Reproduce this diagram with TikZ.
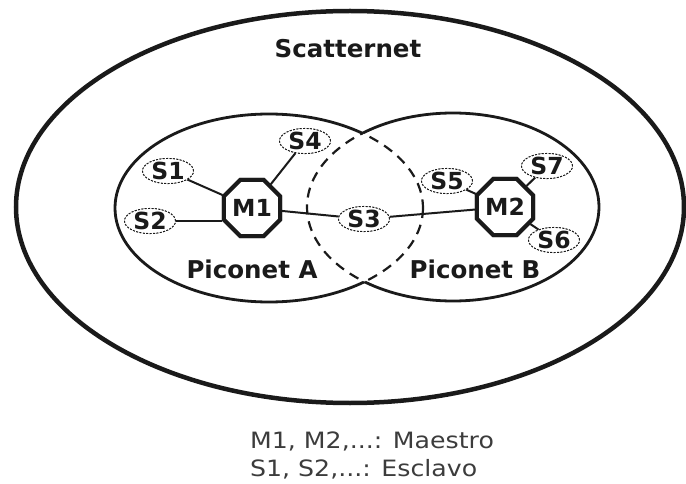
\documentclass[tikz,border=0pt]{standalone}
\usepackage{fontspec}
\setmainfont{DejaVu Sans}
\newfontfamily\legendfont[FakeStretch=1.12]{DejaVu Sans}
\usetikzlibrary{shapes.geometric}
\definecolor{ink}{HTML}{1A1A1A}
\definecolor{legendgray}{HTML}{3C3C3C}
\begin{document}
\begin{tikzpicture}[x=1pt,y=-1pt,
  ring/.style={line width=2.8pt, draw=ink},
  outerring/.style={line width=4.5pt, draw=ink},
  innerdash/.style={line width=2.2pt, draw=ink, dash pattern=on 10pt off 7pt},
  slave/.style={ellipse, draw=ink, fill=white, line width=0.9pt,
    dash pattern=on 2pt off 1.4pt, minimum width=51pt, minimum height=24pt,
    inner sep=0pt, text=ink, font=\fontsize{23.5}{23.5}\selectfont\bfseries},
  master/.style={regular polygon, regular polygon sides=8, draw=ink, fill=white,
    line width=4pt, minimum size=54pt, inner sep=0pt, text=ink,
    font=\fontsize{23.5}{23.5}\selectfont\bfseries},
  link/.style={line width=2pt, draw=ink},
  title/.style={text=ink, font=\fontsize{24.5}{24.5}\selectfont\bfseries, inner sep=0pt},
  legend/.style={text=legendgray, font=\fontsize{22.5}{22.5}\legendfont, inner sep=0pt}]

\useasboundingbox (0,0) rectangle (686,484);

% Scatternet boundary
\coordinate (cS) at (350,207);
\draw[outerring] (cS) ellipse [x radius=334, y radius=196];

% Piconet boundaries: solid outside the overlap, dashed inside it
\coordinate (cA) at (269,208);
\coordinate (cB) at (453,207);
\begin{scope}[even odd rule]
  \clip (0,0) rectangle (686,484) (cB) ellipse [x radius=146, y radius=94];
  \draw[ring] (cA) ellipse [x radius=154, y radius=94];
\end{scope}
\begin{scope}[even odd rule]
  \clip (0,0) rectangle (686,484) (cA) ellipse [x radius=154, y radius=94];
  \draw[ring] (cB) ellipse [x radius=146, y radius=94];
\end{scope}
\begin{scope}
  \clip (cB) ellipse [x radius=146, y radius=94];
  \draw[innerdash] (cA) ellipse [x radius=154, y radius=94];
\end{scope}
\begin{scope}
  \clip (cA) ellipse [x radius=154, y radius=94];
  \draw[innerdash] (cB) ellipse [x radius=146, y radius=94];
\end{scope}

% Titles
\node[title, anchor=base] (scat) at (348,57.5) {Scatternet};
\node[title, anchor=base] (picA) at (252,278) {Piconet A};
\node[title, anchor=base] (picB) at (475,278) {Piconet B};

% Device placement (links are drawn between these names)
\node[master] (M1) at (252,208) {M1};
\node[master] (M2) at (505,207) {M2};
\node[slave] (S1) at (168,171) {S1};
\node[slave] (S2) at (150,221) {S2};
\node[slave] (S4) at (305,141) {S4};
\node[slave] (S3) at (364,219) {S3};
\node[slave] (S5) at (447,181) {S5};
\node[slave] (S7) at (547,166) {S7};
\node[slave] (S6) at (554,240) {S6};

% Links
\draw[link] (S1) -- (M1);
\draw[link] (S2.east) -- (M1.west |- S2.east);
\draw[link] (S4) -- (M1);
\draw[link] (M1) -- (S3);
\draw[link] (S3) -- (M2);
\draw[link] (S5) -- (M2);
\draw[link] (S7) -- (M2);
\draw[link] (S6) -- (M2);

% Devices again, on top of the link ends
\node[master] at (M1) {M1};
\node[master] at (M2) {M2};
\node[slave] at (S1) {S1};
\node[slave] at (S2) {S2};
\node[slave] at (S4) {S4};
\node[slave] at (S3) {S3};
\node[slave] at (S5) {S5};
\node[slave] at (S7) {S7};
\node[slave] at (S6) {S6};

% Legend
\node[legend, anchor=base west] (leg1) at (250,448) {M1, M2,...: Maestro};
\node[legend, anchor=base west] (leg2) at (250,476) {S1, S2,...: Esclavo};
\end{tikzpicture}
\end{document}
